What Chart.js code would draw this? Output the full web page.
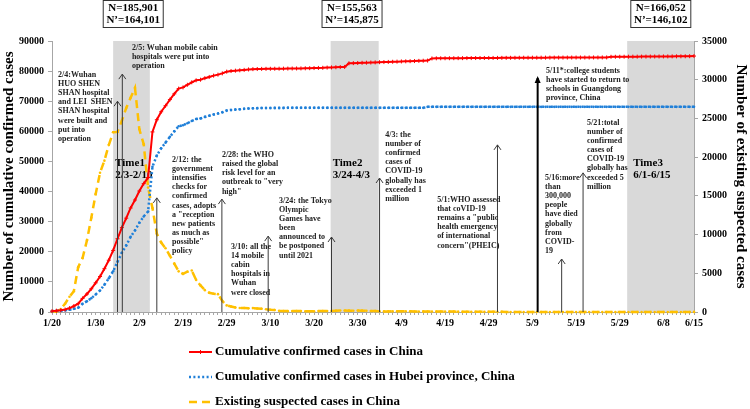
<!DOCTYPE html>
<html>
<head>
<meta charset="utf-8">
<script src="https://cdn.jsdelivr.net/npm/chart.js@4.4.0/dist/chart.umd.min.js"></script>
<style>
  body { margin: 0; background: #fff; }
</style>
</head>
<body>
<canvas id="covid" width="750" height="409"></canvas>
<script>
// x is the day number: 0 = 1/20 ... 147 = 6/15
var tickDays = [0, 10, 20, 30, 40, 50, 60, 70, 80, 90, 100, 110, 120, 130, 140, 147];
var tickLabels = ['1/20', '1/30', '2/9', '2/19', '2/29', '3/10', '3/20', '3/30', '4/9', '4/19', '4/29', '5/9', '5/19', '5/29', '6/8', '6/15'];

// cumulative confirmed cases in China (left axis)
var chinaCases = [
  291, 440, 571, 830, 1287, 1975, 2744, 4515, 5974, 7711, 9692, 11791,
  14380, 17205, 20438, 24324, 28018, 31161, 34546, 37198, 40171, 42638, 44653, 59804, 63851, 66492, 68500, 70548, 72436, 74185,
  74576, 75465, 76288, 76936, 77150, 77658, 78064, 78497, 78824, 79251, 79824,
  80026, 80151, 80270, 80409, 80552, 80651, 80695, 80735, 80754, 80778, 80793, 80813, 80824, 80844, 80860, 80881, 80894, 80928,
  80967, 81008, 81054, 81093, 81171,
  81218, 81285, 81340, 81394,
  82600, 82650, 82700, 82760, 82800, 82850, 82900, 82960, 83000, 83050, 83100, 83150, 83210, 83250, 83300, 83340, 83400, 83450, 83500,
  84200,
  84250, 84260, 84270, 84280, 84290, 84300, 84310, 84320, 84330, 84340, 84350, 84360, 84370, 84380, 84390, 84400, 84410, 84420, 84430, 84440,
  84450, 84455, 84460, 84465, 84470, 84475, 84480, 84485, 84490, 84495, 84500, 84505, 84510, 84515, 84520, 84525, 84530, 84535, 84540, 84545,
  84750, 84760, 84770, 84780, 84790, 84800, 84810, 84820, 84830, 84840, 84850, 84860, 84870, 84880, 84890, 84900, 84910, 84920, 84950, 85000
];

// cumulative confirmed cases in Hubei (left axis)
var hubeiCases = [
  270, 375, 444, 549, 729, 1052, 1423, 2714, 3554, 4586, 5806, 7153,
  9074, 11177, 13522, 16678, 19665, 22112, 24953, 27100, 29631, 31728, 33366, 48206, 51986, 54406, 56249, 58182, 59989, 61682,
  62031, 62662, 63454, 64084, 64287, 64786, 65187, 65596, 65914, 66337, 66907,
  67103, 67217, 67332, 67466, 67592, 67666, 67707, 67743, 67760, 67773, 67781, 67786, 67790, 67794, 67798, 67799, 67800, 67800,
  67800, 67800, 67800, 67800, 67800, 67801, 67801, 67801, 67801, 67801, 67801, 67801, 67802,
  67802, 67802, 67802, 67803, 67803, 67803, 67803, 67803, 67803, 67803, 67803, 67803, 67803, 67803,
  68128, 68128, 68128, 68128, 68128, 68128, 68128, 68128, 68128, 68128, 68128, 68128, 68128, 68128, 68128, 68128, 68128, 68128, 68128, 68128,
  68128, 68128, 68128, 68128, 68128, 68128,
  68134, 68134, 68134, 68134, 68134, 68134, 68134, 68134, 68134, 68134, 68134, 68134, 68134, 68134, 68134, 68134, 68134, 68134, 68134, 68134,
  68135, 68135, 68135, 68135, 68135, 68135, 68135, 68135, 68135, 68135, 68135, 68135, 68135, 68135, 68135, 68135
];

// existing suspected cases in China (right axis)
var suspectedCases = [
  54, 37, 393, 1072, 1965, 2684, 5794, 6973, 9239, 12167, 15238, 17988,
  19544, 21558, 23214, 23260, 24702, 26359, 27657, 28942, 23589, 21675, 16067, 13435, 10109, 8969, 8228, 7264, 6242, 5248,
  4922, 5206, 5365, 4148, 3434, 2824, 2491, 2358, 2308, 1418, 851,
  715, 587, 520, 522, 482, 502, 458, 421, 349, 285, 253, 147, 115, 113, 134, 128, 119, 105, 104, 106,
  118, 136, 132, 134, 159, 189, 184, 174, 168, 183, 172,
  153, 135, 132, 89, 78, 78, 83, 91, 99, 105, 87, 72, 74, 76, 73, 66, 70, 56, 63, 64,
  52, 46, 39, 33, 31, 28, 27, 28, 25, 23,
  18, 17, 8, 8, 6, 7, 9, 9, 6, 7, 7, 6, 7, 5, 3, 3, 4, 3, 5, 4,
  3, 2, 2, 4, 4, 5, 3, 3, 2, 3, 3,
  4, 2, 2, 3, 4, 2, 2, 3, 3, 4, 3, 5, 6, 7, 10
];

var seriesNames = ['Cumulative confirmed cases in China', 'Cumulative confirmed cases in Hubei province, China', 'Existing suspected cases in China'];

// shaded periods (day from, day to)
var periods = [
  { from: 14, to: 22.4, name: 'Time1', range: '2/3-2/10' },
  { from: 63.8, to: 74.8, name: 'Time2', range: '3/24-4/3' },
  { from: 131.7, to: 147, name: 'Time3', range: '6/1-6/15' }
];

var periodBoxes = [
  { day: 18.6, lines: ['N=185,901', 'N\u2019=164,101'] },
  { day: 68.7, lines: ['N=155,563', 'N\u2019=145,875'] },
  { day: 139.4, lines: ['N=166,052', 'N\u2019=146,102'] }
];

// event arrows: day of arrow, tip height (left axis), text anchor
var events = [
  { day: 15, tip: 70000, tDay: 1.4, tVal: 78700, lines: ['2/4:Wuhan', 'HUO SHEN', 'SHAN hospital', 'and LEI  SHEN', 'SHAN hospital', 'were built and', 'put into', 'operation'] },
  { day: 16.1, tip: 79000, tDay: 18.3, tVal: 87700, lines: ['2/5: Wuhan mobile cabin', 'hospitals were put into', 'operation'] },
  { day: 24, tip: 37900, tDay: 27.5, tVal: 50500, lines: ['2/12: the', 'government', 'intensifies', 'checks for', 'confirmed', 'cases, adopts', 'a "reception', 'new patients', 'as much as', 'possible"', 'policy'] },
  { day: 38.9, tip: 37500, tDay: 38.9, tVal: 52100, lines: ['2/28: the WHO', 'raised the global', 'risk level for an', 'outbreak to "very', 'high"'] },
  { day: 49.5, tip: 25200, tDay: 41, tVal: 21600, lines: ['3/10: all the', '14 mobile', 'cabin', 'hospitals in', 'Wuhan', 'were closed'] },
  { day: 64, tip: 24900, tDay: 52, tVal: 36900, lines: ['3/24: the Tokyo', 'Olympic', 'Games have', 'been', 'announced to', 'be postponed', 'until 2021'] },
  { day: 75, tip: 44500, tDay: 76.3, tVal: 58800, lines: ['4/3: the', 'number of', 'confirmed', 'cases of', 'COVID-19', 'globally has', 'exceeded 1', 'million'] },
  { day: 102, tip: 55500, tDay: 88.2, tVal: 37200, lines: ['5/1:WHO assessed', 'that coVID-19', 'remains a "public', 'health emergency', 'of international', 'concern"(PHEIC)'] },
  { day: 111.2, tip: 77700, tDay: 113.1, tVal: 80000, heavy: true, lines: ['5/11*:college students', 'have started to return to', 'schools in Guangdong', 'province, China'] },
  { day: 116.7, tip: 17600, tDay: 112.9, tVal: 44500, lines: ['5/16:more', 'than', '300,000', 'people', 'have died', 'globally', 'from', 'COVID-', '19'] },
  { day: 121.6, tip: 46200, tDay: 122.5, tVal: 62800, lines: ['5/21:total', 'number of', 'confirmed', 'cases of', 'COVID-19', 'globally has', 'exceeded 5', 'million'] }
];

var serif = '"Liberation Serif", "DejaVu Serif", serif';

function toPoints(arr) {
  return arr.map(function (v, i) { return { x: i, y: v }; });
}

var decorations = {
  id: 'decorations',
  beforeDatasetsDraw: function (chart) {
    var ctx = chart.ctx, a = chart.chartArea, xs = chart.scales.x, ys = chart.scales.y;
    ctx.save();
    ctx.fillStyle = '#d9d9d9';
    periods.forEach(function (p) {
      var x0 = xs.getPixelForValue(p.from), x1 = xs.getPixelForValue(p.to);
      ctx.fillRect(x0, a.top, x1 - x0, a.bottom - a.top);
    });
    ctx.fillStyle = '#000';
    ctx.font = 'bold 11px ' + serif;
    ctx.textBaseline = 'middle';
    periods.forEach(function (p, i) {
      var x0 = xs.getPixelForValue(p.from) + (i === 2 ? 6 : 2);
      ctx.fillText(p.name, x0, ys.getPixelForValue(49500));
      ctx.fillText(p.range, x0, ys.getPixelForValue(45500));
    });
    ctx.restore();
  },
  afterDatasetsDraw: function (chart) {
    var ctx = chart.ctx, a = chart.chartArea, xs = chart.scales.x, ys = chart.scales.y;
    ctx.save();
    events.forEach(function (e) {
      var x = xs.getPixelForValue(e.day), yt = ys.getPixelForValue(e.tip);
      ctx.strokeStyle = e.heavy ? '#000' : '#3a3a3a';
      ctx.fillStyle = '#000';
      ctx.lineWidth = e.heavy ? 2 : 1;
      ctx.beginPath();
      ctx.moveTo(x, a.bottom);
      ctx.lineTo(x, yt);
      ctx.stroke();
      ctx.beginPath();
      if (e.heavy) {
        ctx.moveTo(x, yt - 2);
        ctx.lineTo(x - 3, yt + 5);
        ctx.lineTo(x + 3, yt + 5);
        ctx.closePath();
        ctx.fill();
      } else {
        ctx.moveTo(x - 3.5, yt + 5);
        ctx.lineTo(x, yt);
        ctx.lineTo(x + 3.5, yt + 5);
        ctx.stroke();
      }
      ctx.font = 'bold 8px ' + serif;
      ctx.textBaseline = 'middle';
      ctx.fillStyle = '#222';
      var tx = xs.getPixelForValue(e.tDay), ty = ys.getPixelForValue(e.tVal);
      e.lines.forEach(function (l, i) {
        ctx.fillText(l, tx, ty + i * 9.1);
      });
    });
    ctx.restore();
  },
  afterDraw: function (chart) {
    var ctx = chart.ctx, xs = chart.scales.x;
    ctx.save();
    ctx.font = 'bold 11px ' + serif;
    ctx.textBaseline = 'middle';
    ctx.textAlign = 'center';
    periodBoxes.forEach(function (b) {
      var cx = xs.getPixelForValue(b.day);
      ctx.fillStyle = '#fff';
      ctx.fillRect(cx - 30, 0.5, 60, 27);
      ctx.strokeStyle = '#333';
      ctx.lineWidth = 1;
      ctx.strokeRect(cx - 30, 0.5, 60, 27);
      ctx.fillStyle = '#000';
      ctx.fillText(b.lines[0], cx, 8);
      ctx.fillText(b.lines[1], cx, 20);
    });

    // legend below the chart
    var ds = chart.data.datasets;
    var ly = [352, 377, 402];
    ctx.textAlign = 'left';
    ctx.font = 'bold 13px ' + serif;
    ds.forEach(function (d, i) {
      var y = ly[i];
      ctx.strokeStyle = d.borderColor;
      ctx.fillStyle = d.borderColor;
      ctx.lineWidth = i === 0 ? 2 : 2.5;
      ctx.setLineDash(i === 0 ? [] : i === 1 ? [2, 2.4] : [8, 5]);
      ctx.beginPath();
      ctx.moveTo(189, y);
      ctx.lineTo(212, y);
      ctx.stroke();
      ctx.setLineDash([]);
      if (i === 0) {
        ctx.lineWidth = 1;
        ctx.beginPath();
        ctx.moveTo(200.5, y - 2);
        ctx.lineTo(200.5, y + 2);
        ctx.stroke();
      }
      ctx.fillStyle = '#000';
      ctx.fillText(seriesNames[i], 215, y);
    });
    ctx.restore();
  }
};

function plainNumber(value) {
  return String(value);
}

var ctx = document.getElementById('covid').getContext('2d');
var chart = new Chart(ctx, {
  type: 'line',
  data: {
    datasets: [{
      label: seriesNames[0],
      data: toPoints(chinaCases),
      yAxisID: 'y',
      borderColor: '#ff0000',
      backgroundColor: '#ff0000',
      borderWidth: 2,
      pointStyle: 'cross',
      pointRadius: 2,
      pointBorderWidth: 1,
      clip: false
    }, {
      label: seriesNames[1],
      data: toPoints(hubeiCases),
      yAxisID: 'y',
      borderColor: '#1f7fd8',
      backgroundColor: '#1f7fd8',
      borderWidth: 2.5,
      borderDash: [2, 2.4],
      pointRadius: 1.3,
      pointBorderWidth: 0,
      clip: false
    }, {
      label: seriesNames[2],
      data: toPoints(suspectedCases),
      yAxisID: 'y1',
      borderColor: '#ffc000',
      backgroundColor: '#ffc000',
      borderWidth: 2.5,
      borderDash: [8, 5],
      pointRadius: 1.3,
      pointBorderWidth: 0,
      clip: false
    }]
  },
  options: {
    responsive: false,
    animation: false,
    layout: { padding: { top: 41, bottom: 75, left: 0, right: 0 } },
    plugins: {
      legend: { display: false },
      tooltip: { enabled: false }
    },
    scales: {
      x: {
        type: 'linear',
        min: 0,
        max: 147,
        afterBuildTicks: function (scale) {
          var t = [];
          for (var d = 0; d <= 147; d++) t.push({ value: d });
          scale.ticks = t;
        },
        afterFit: function (scale) { scale.height = 22; },
        ticks: {
          autoSkip: false,
          maxRotation: 0,
          padding: 2,
          color: '#000',
          font: { family: serif, size: 10, weight: 'bold' },
          callback: function (value) {
            var i = tickDays.indexOf(value);
            return i >= 0 ? tickLabels[i] : '';
          }
        },
        grid: { drawOnChartArea: false, tickLength: 3, color: '#a6a6a6' },
        border: { color: '#a6a6a6' }
      },
      y: {
        position: 'left',
        min: 0,
        max: 90000,
        afterFit: function (scale) { scale.width = 52; },
        ticks: {
          stepSize: 10000,
          padding: 4,
          color: '#000',
          font: { family: serif, size: 10, weight: 'bold' },
          callback: plainNumber
        },
        grid: { drawOnChartArea: false, tickLength: 4, color: '#a6a6a6' },
        border: { color: '#a6a6a6' },
        title: {
          display: true,
          text: 'Number of cumulative confirmed cases',
          color: '#000',
          padding: { top: 0, bottom: 0 },
          font: { family: serif, size: 15, weight: 'bold' }
        }
      },
      y1: {
        position: 'right',
        min: 0,
        max: 35000,
        afterFit: function (scale) { scale.width = 56; },
        ticks: {
          stepSize: 5000,
          padding: 4,
          color: '#000',
          font: { family: serif, size: 10, weight: 'bold' },
          callback: plainNumber
        },
        grid: { drawOnChartArea: false, tickLength: 4, color: '#a6a6a6' },
        border: { color: '#a6a6a6' },
        title: {
          display: true,
          text: 'Number of existing suspected cases',
          color: '#000',
          padding: { top: 0, bottom: 0 },
          font: { family: serif, size: 15, weight: 'bold' }
        }
      }
    }
  },
  plugins: [decorations]
});
</script>
</body>
</html>
